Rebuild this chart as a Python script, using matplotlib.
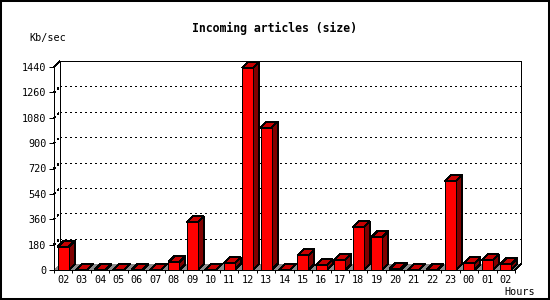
import matplotlib
matplotlib.use("Agg")
import matplotlib.pyplot as plt
from matplotlib.patches import Polygon, Rectangle
import numpy as np

plt.rcParams['lines.scale_dashes'] = False

# ---- data ----
hours = ['02', '03', '04', '05', '06', '07', '08', '09', '10', '11', '12', '13',
         '14', '15', '16', '17', '18', '19', '20', '21', '22', '23', '00', '01', '02']
values = [165, 0, 0, 0, 0, 0, 55, 338, 0, 47, 1435, 1010,
          0, 104, 33, 73, 303, 232, 9, 0, 0, 629, 47, 69, 40]
yticks = [0, 180, 360, 540, 720, 900, 1080, 1260, 1440]
title = 'Incoming articles (size)'
ylabel = 'Kb/sec'
xlabel = 'Hours'

# ---- style ----
W, H = 550, 300
FRONT = '#ff0000'
TOP = '#c80000'
SIDE = '#800000'
FLOOR = '#8c8c8c'
LW = 0.72
MONO = 'DejaVu Sans Mono'

fig = plt.figure(figsize=(W / 100, H / 100), dpi=100)
fig.patch.set_facecolor('white')
ax_l, ax_r, ax_t, ax_b = 54, 515, 67, 270
ax = fig.add_axes([ax_l / W, 1 - ax_b / H, (ax_r - ax_l) / W, (ax_b - ax_t) / H])
ax.set_facecolor('none')

n = len(values)
xmin, xmax = -0.5, n - 0.5
ymin, ymax = 0, yticks[-1]
ax.set_xlim(xmin, xmax)
ax.set_ylim(ymin, ymax)

# 3-D depth offset (6 px) converted to data units
depth_px = 6
DX = depth_px * (xmax - xmin) / (ax_r - ax_l)
DY = depth_px * (ymax - ymin) / (ax_b - ax_t)
bw = 11 * (xmax - xmin) / (ax_r - ax_l)

# back wall
ax.add_patch(Rectangle((xmin + DX, DY), xmax - xmin, ymax, facecolor='white',
                       edgecolor='none', zorder=1, clip_on=False))
wall_kw = dict(color='black', lw=LW, clip_on=False, zorder=1.5, antialiased=False,
               solid_capstyle='butt')
ax.plot([xmin + DX, xmin + DX], [DY, ymax + DY], snap=True, **wall_kw)
ax.plot([xmax + DX, xmax + DX], [DY, ymax + DY], snap=True, **wall_kw)
ax.plot([xmin + DX, xmax + DX], [ymax + DY, ymax + DY], snap=True, **wall_kw)
ax.plot([xmin, xmin + DX], [ymax, ymax + DY], **wall_kw)

# gridlines (dotted, on left diagonal + back wall)
grid_kw = dict(color='black', lw=0.72, linestyle=(0, (1.44, 2.16)), clip_on=False,
               zorder=2, antialiased=False, dash_capstyle='butt')
for v in yticks[1:-1]:
    ax.plot([xmin, xmin + DX], [v, v + DY], **dict(grid_kw, lw=0.45))
    ax.plot([xmin + DX, xmax + DX], [v + DY, v + DY], snap=True, **grid_kw)

# floor
ax.add_patch(Polygon([(xmin, 0), (xmax, 0), (xmax + DX, DY), (xmin + DX, DY)],
                     closed=True, facecolor=FLOOR, edgecolor='none', zorder=3,
                     clip_on=False, antialiased=False))
ax.plot([xmax, xmax + DX], [0, DY], **dict(wall_kw, zorder=3.1))

# bars
for i, v in enumerate(values):
    x0, x1 = i - bw / 2, i + bw / 2
    z = 4 + i * 0.01
    kw = dict(closed=True, edgecolor='black', lw=LW, clip_on=False,
              antialiased=False, joinstyle='miter')
    ax.add_patch(Polygon([(x1, 0), (x1 + DX, DY), (x1 + DX, v + DY), (x1, v)],
                         facecolor=SIDE, zorder=z, **kw))
    ax.add_patch(Polygon([(x0, v), (x1, v), (x1 + DX, v + DY), (x0 + DX, v + DY)],
                         facecolor=TOP, zorder=z, **kw))
    ax.add_patch(Polygon([(x0, 0), (x1, 0), (x1, v), (x0, v)],
                         facecolor=FRONT, zorder=z + 0.001, **kw))

# axes / ticks
for s in ['top', 'right']:
    ax.spines[s].set_visible(False)
for s in ['left', 'bottom']:
    ax.spines[s].set_linewidth(LW)
    ax.spines[s].set_zorder(10)
ax.set_yticks(yticks)
ax.set_yticklabels([str(t) for t in yticks], fontsize=7.3, family=MONO)
ax.tick_params(axis='y', length=3.6, width=LW, pad=1.8, direction='out')
ax.set_xticks(np.arange(n))
ax.set_xticklabels(hours, fontsize=7.3, family=MONO)
ax.tick_params(axis='x', which='major', length=0, pad=3.3)
ax.set_xticks(np.arange(n + 1) - 0.5, minor=True)
ax.tick_params(axis='x', which='minor', length=2.2, width=LW, direction='out')

# texts
fig.text(275 / W, 1 - 28.3 / H, title, ha='center', va='center', fontsize=8.3,
         family=MONO, fontweight='bold')
fig.text(29 / W, 1 - 38.3 / H, ylabel, ha='left', va='center', fontsize=7.3, family=MONO)
fig.text(504 / W, 1 - 292.3 / H, xlabel, ha='left', va='center', fontsize=7.3, family=MONO)

# image border
fig.patches.append(Rectangle((0, 0), 1, 1, transform=fig.transFigure, fill=False,
                             edgecolor='black', lw=2.9, zorder=20))

fig.savefig('out.png', dpi=100, facecolor='white')
